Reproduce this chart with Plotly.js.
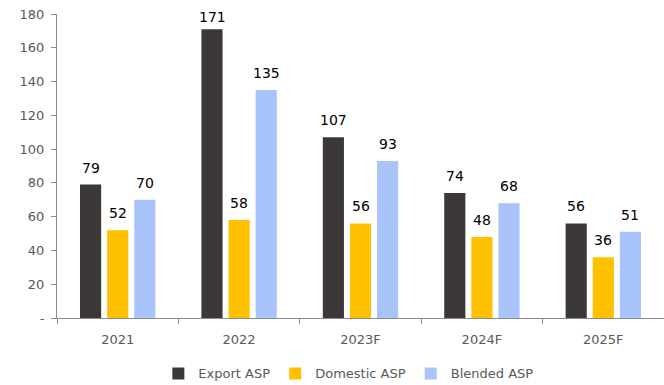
<!DOCTYPE html>
<html><head><meta charset="utf-8">
<script src="https://cdn.plot.ly/plotly-3.0.1.min.js"></script>
<style>html,body{margin:0;padding:0;background:#fff}#chart{width:664px;height:385px}</style>
</head><body><div id="chart"></div>
<script>
const categories = ['2021','2022','2023F','2024F','2025F'];
const exportASP = [79,171,107,74,56];
const domesticASP = [52,58,56,48,36];
const blendedASP = [70,135,93,68,51];
const yTickVals = [0,20,40,60,80,100,120,140,160,180];
const yTickText = ['-','20','40','60','80','100','120','140','160','180'];

const font = 'DejaVu Sans, Verdana, sans-serif';
const yMax = 180;
const series = [
  {name:'Export ASP', y:exportASP, color:'#3d3838', shift:-27},
  {name:'Domestic ASP', y:domesticASP, color:'#ffc000', shift:0},
  {name:'Blended ASP', y:blendedASP, color:'#a9c4fb', shift:27}
];
const data = series.map(s => ({type:'bar', name:s.name, x:categories, y:s.y, marker:{color:s.color}, hoverinfo:'x+y'}));
const annotations = [];
series.forEach(s => s.y.forEach((v,i) => annotations.push({
  x:i, y:v, xref:'x', yref:'y', text:String(v), showarrow:false,
  xanchor:'center', yanchor:'bottom', xshift:s.shift, yshift:(yMax - v < 15 ? 2 : 7),
  font:{family:font, size:14, color:'#000'}
})));
const layout = {
  width:664, height:385, margin:{l:57,r:0,t:14,b:67, autoexpand:false},
  paper_bgcolor:'#fff', plot_bgcolor:'#fff',
  barmode:'group', bargap:0.33, bargroupgap:0.22,
  font:{family:font, size:13, color:'#595959'},
  xaxis:{type:'category', automargin:false, range:[-0.5, categories.length-0.5], showline:true, linecolor:'#8c8c8c', linewidth:1, ticks:'outside', tickson:'boundaries', ticklen:5, tickcolor:'#8c8c8c', ticklabelstandoff:9, tickfont:{size:13,color:'#595959'}},
  yaxis:{automargin:false, range:[0,yMax], tickvals:yTickVals, ticktext:yTickText, showgrid:false, zeroline:false, showline:true, linecolor:'#8c8c8c', ticks:'outside', ticklen:5, tickcolor:'#8c8c8c', ticklabelstandoff:4, tickfont:{size:13,color:'#595959'}},
  annotations: annotations,
  showlegend:true,
  legend:{orientation:'h', x:0.48, xanchor:'center', yref:'container', y:0.03, yanchor:'middle', font:{size:13,color:'#595959'}, itemwidth:20, traceorder:'normal'}
};
Plotly.newPlot('chart', data, layout, {displayModeBar:false});
</script></body></html>
